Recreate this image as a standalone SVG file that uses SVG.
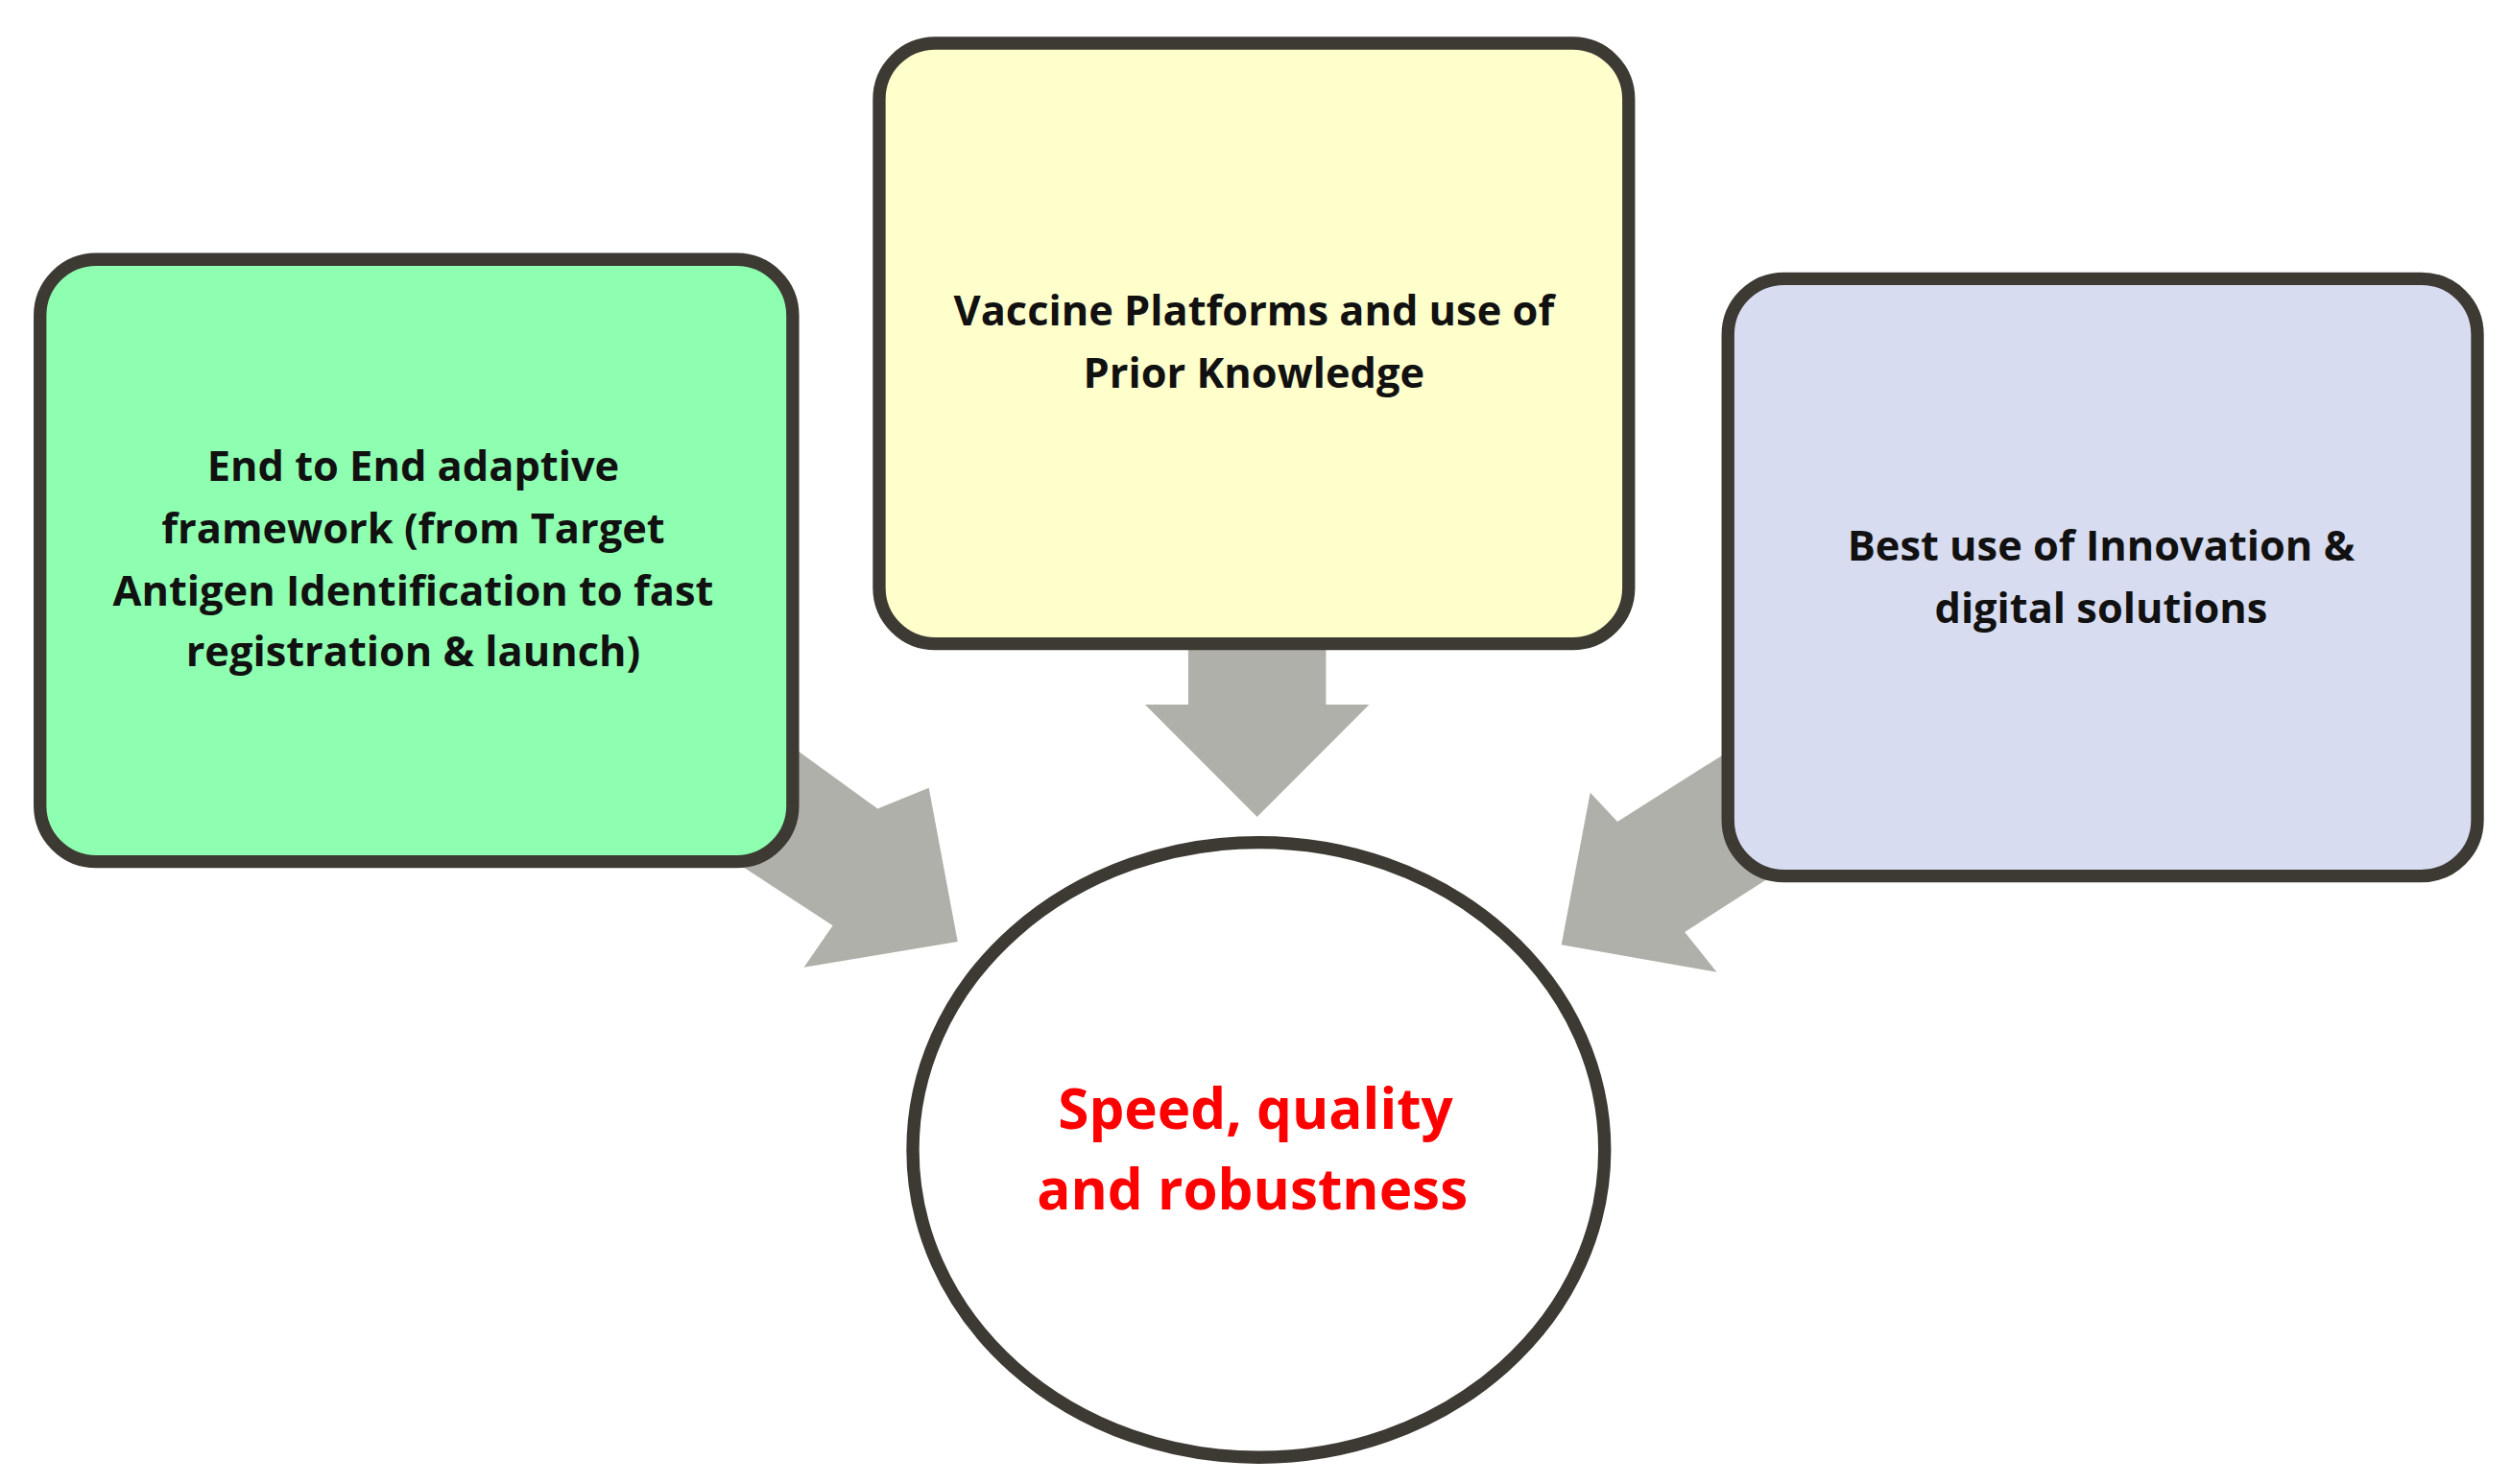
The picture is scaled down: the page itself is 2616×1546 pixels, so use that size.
<svg xmlns="http://www.w3.org/2000/svg" width="2616" height="1546" viewBox="0 0 2616 1546">
<style>
.box{stroke:#3d3a33;stroke-width:8}
.t{font-family:"Open Sans","Liberation Sans",sans-serif;font-weight:bold;font-size:26px;fill:#111;text-anchor:middle}
.r{font-family:"Open Sans","Liberation Sans",sans-serif;font-weight:bold;font-size:35px;fill:#f00;text-anchor:middle}
.ar{fill:#b0b0aa}
</style>
<rect width="2616" height="1546" fill="#fff"/>
<g transform="scale(1.6684)">
<g id="connectors">
<polygon class="ar" points="497,468 548,505 580,492 598,588 502,604 520,578 462,540"/>
<polygon class="ar" points="742,400 828,400 828,440 855,440 785,510 715,440 742,440"/>
<polygon class="ar" points="1078,470 1010,513 993,495 975,590 1072,607 1052,582 1105,548"/>
</g>
<g id="green">
<rect class="box" x="25" y="162" width="470" height="376" rx="35" fill="#8effb0"/>
<text class="t" x="258" y="300">End to End adaptive</text>
<text class="t" x="258" y="339">framework (from Target</text>
<text class="t" x="258" y="378">Antigen Identification to fast</text>
<text class="t" x="258" y="416">registration &amp; launch)</text>
</g>
<g id="yellow">
<rect class="box" x="549" y="27" width="468" height="375" rx="35" fill="#ffffcc"/>
<text class="t" x="783" y="203">Vaccine Platforms and use of</text>
<text class="t" x="783" y="242">Prior Knowledge</text>
</g>
<g id="purple">
<rect class="box" x="1079" y="174" width="468" height="373" rx="35" fill="#d8dcf0"/>
<text class="t" x="1312" y="350">Best use of Innovation &amp;</text>
<text class="t" x="1312" y="389">digital solutions</text>
</g>
<g id="circle">
<ellipse class="box" cx="786" cy="718" rx="216" ry="192" fill="#fff"/>
<text class="r" x="784" y="705">Speed, quality</text>
<text class="r" x="782" y="755">and robustness</text>
</g>
</g>
</svg>
